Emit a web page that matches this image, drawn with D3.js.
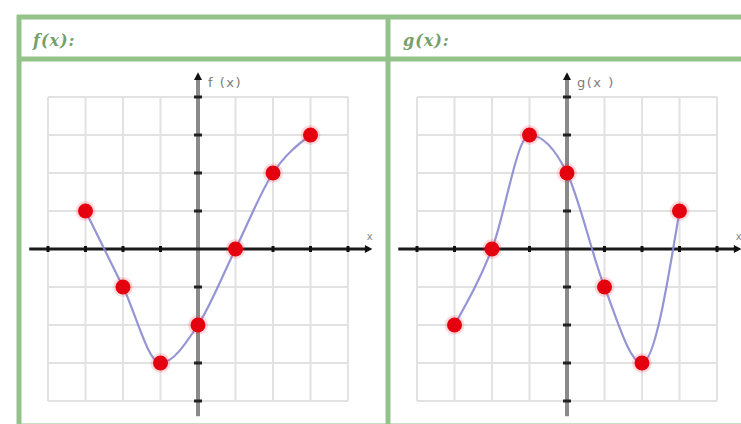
<!DOCTYPE html>
<html>
<head>
<meta charset="utf-8">
<script src="https://cdn.jsdelivr.net/npm/d3@7"></script>
<style>
  body { margin: 0; background: #fff; }
  svg { display: block; }
</style>
</head>
<body>
<script>
// points
const xValues = [-3, -2, -1, 0, 1, 2, 3];
const fValues = [1, -1, -3, -2, 0, 2, 3];
const gValues = [-2, 0, 3, 2, -1, -3, 1];
const gridTicks = [-4, -3, -2, -1, 0, 1, 2, 3, 4];
const panelTitles = ["f(x):", "g(x):"];
const axisLabels = ["f (x)", "g(x )"];

const W = 741, H = 424;
const green = "#93c38b";

const svg = d3.select("body").append("svg")
  .attr("width", W).attr("height", H);

// table borders
const table = svg.append("g").attr("fill", "none").attr("stroke", green).attr("stroke-width", 5);
table.append("line").attr("x1", 17).attr("x2", W + 5).attr("y1", 17).attr("y2", 17);
table.append("line").attr("x1", 17).attr("x2", W + 5).attr("y1", 59).attr("y2", 59);
table.append("line").attr("x1", 17).attr("x2", W + 5).attr("y1", 426).attr("y2", 426);
table.append("line").attr("x1", 19).attr("x2", 19).attr("y1", 15).attr("y2", H + 5);
table.append("line").attr("x1", 388).attr("x2", 388).attr("y1", 15).attr("y2", H + 5);

// panel titles
[33, 403].forEach((x, i) => {
  svg.append("text")
    .attr("x", x).attr("y", 46)
    .attr("font-family", "DejaVu Serif, serif")
    .attr("font-style", "italic")
    .attr("font-weight", "bold")
    .attr("font-size", 16)
    .attr("letter-spacing", 1)
    .attr("fill", "#74a06b")
    .text(panelTitles[i]);
});

function drawPanel(offsetX, values, label) {
  const x = d3.scaleLinear().domain([-4, 4]).range([48 + offsetX, 348 + offsetX]);
  const y = d3.scaleLinear().domain([-4, 4]).range([401, 97]);
  const g = svg.append("g");

  // grid
  g.append("g").selectAll("line.v").data(gridTicks).join("line")
    .attr("x1", d => x(d)).attr("x2", d => x(d))
    .attr("y1", y(4)).attr("y2", y(-4))
    .attr("stroke", "#e2e2e2").attr("stroke-width", 2);
  g.append("g").selectAll("line.h").data(gridTicks).join("line")
    .attr("x1", x(-4)).attr("x2", x(4))
    .attr("y1", d => y(d)).attr("y2", d => y(d))
    .attr("stroke", "#e2e2e2").attr("stroke-width", 2);

  // y axis (gray, thick)
  g.append("line")
    .attr("x1", x(0)).attr("x2", x(0))
    .attr("y1", y(-4.4)).attr("y2", y(4.45))
    .attr("stroke", "#8a8a8a").attr("stroke-width", 4);
  g.append("path")
    .attr("d", `M${x(0) - 4},${y(4.45)} L${x(0)},${y(4.65)} L${x(0) + 4},${y(4.45)} Z`)
    .attr("fill", "#111");
  g.append("g").selectAll("line").data(gridTicks.filter(d => d !== 0)).join("line")
    .attr("x1", x(0) - 4).attr("x2", x(0) + 4)
    .attr("y1", d => y(d)).attr("y2", d => y(d))
    .attr("stroke", "#222").attr("stroke-width", 3);

  // x axis (black)
  g.append("line")
    .attr("x1", x(-4.5)).attr("x2", x(4.5))
    .attr("y1", y(0)).attr("y2", y(0))
    .attr("stroke", "#1a1a1a").attr("stroke-width", 3);
  g.append("path")
    .attr("d", `M${x(4.45)},${y(0) - 4} L${x(4.65)},${y(0)} L${x(4.45)},${y(0) + 4} Z`)
    .attr("fill", "#111");
  g.append("g").selectAll("line").data(gridTicks.filter(d => d !== 0)).join("line")
    .attr("x1", d => x(d)).attr("x2", d => x(d))
    .attr("y1", y(0) - 3).attr("y2", y(0) + 3)
    .attr("stroke", "#111").attr("stroke-width", 3);

  // axis labels
  g.append("text")
    .attr("x", x(0) + 10).attr("y", 87)
    .attr("font-family", "DejaVu Sans, sans-serif")
    .attr("font-size", 13).attr("letter-spacing", 1.5).attr("fill", "#7a7a7a")
    .text(label);
  g.append("text")
    .attr("x", x(4.5)).attr("y", y(0) - 9)
    .attr("font-family", "DejaVu Sans, sans-serif")
    .attr("font-size", 10).attr("fill", "#888")
    .text("x");

  // curve
  const pts = xValues.map((d, i) => [d, values[i]]);
  const line = d3.line().x(d => x(d[0])).y(d => y(d[1])).curve(d3.curveMonotoneX);
  g.append("path").datum(pts)
    .attr("d", line)
    .attr("fill", "none")
    .attr("stroke", "#8a8ad0").attr("stroke-width", 2.2).attr("opacity", 0.9);

  // points
  g.append("g").selectAll("circle.halo").data(pts).join("circle")
    .attr("cx", d => x(d[0])).attr("cy", d => y(d[1]))
    .attr("r", 10).attr("fill", "#ff3040").attr("opacity", 0.18);
  g.append("g").selectAll("circle.dot").data(pts).join("circle")
    .attr("cx", d => x(d[0])).attr("cy", d => y(d[1]))
    .attr("r", 7.5).attr("fill", "#e4000f");
}

drawPanel(0, fValues, axisLabels[0]);
drawPanel(369, gValues, axisLabels[1]);
</script>
</body>
</html>
